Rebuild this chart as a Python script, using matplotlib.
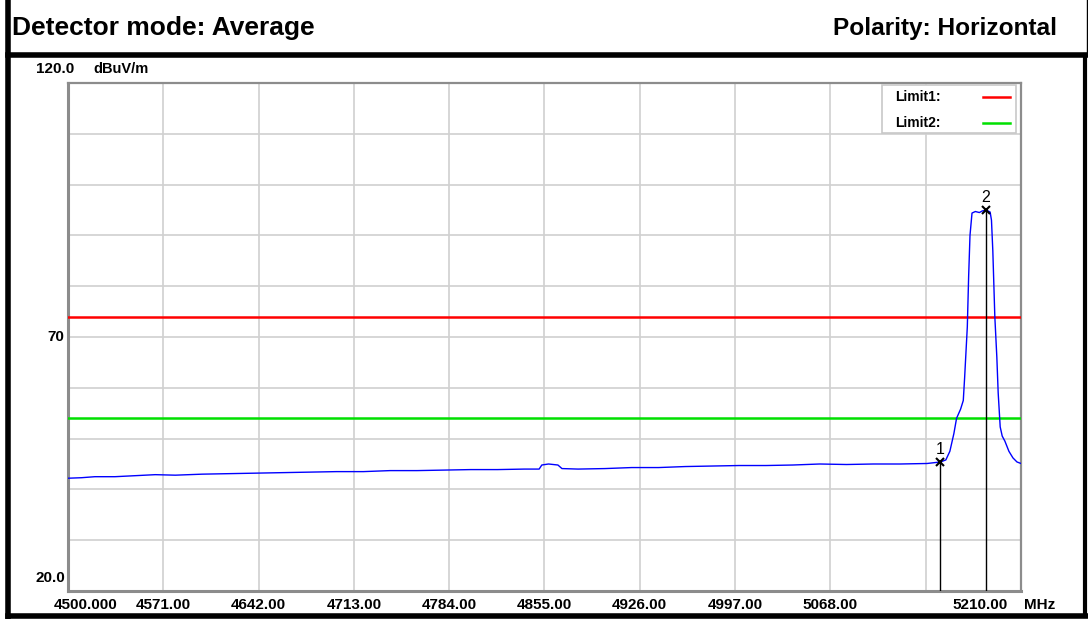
import numpy as np
import matplotlib.pyplot as plt
from matplotlib.lines import Line2D
from matplotlib.patches import Rectangle

plt.rcParams['font.family'] = ['Liberation Sans', 'DejaVu Sans']

# Datos
freq = [4500, 4510, 4520, 4535, 4550, 4565, 4580, 4600, 4620, 4640, 4660, 4680, 4700,
        4720, 4740, 4760, 4780, 4800, 4820, 4840, 4851, 4853, 4858, 4865, 4868, 4880,
        4900, 4920, 4940, 4960, 4980, 5000, 5020, 5040, 5060, 5080, 5100, 5120, 5140,
        5150, 5154, 5157, 5160, 5162, 5165, 5167, 5168, 5170, 5171, 5172, 5173.5, 5176,
        5179, 5181, 5184, 5187, 5188, 5189, 5190.5, 5192, 5193, 5194.5, 5196, 5198,
        5201, 5204, 5207, 5210]
nivel = [42.2, 42.3, 42.5, 42.5, 42.7, 42.9, 42.8, 43.0, 43.1, 43.2, 43.3, 43.4, 43.5,
         43.5, 43.7, 43.7, 43.8, 43.9, 43.9, 44.0, 44.0, 44.8, 45.0, 44.8, 44.1, 44.0,
         44.1, 44.3, 44.3, 44.5, 44.6, 44.7, 44.7, 44.8, 45.0, 44.9, 45.0, 45.0, 45.1,
         45.4, 45.8, 47.5, 51.0, 54.0, 55.8, 57.5, 62.0, 72.0, 82.0, 90.0, 94.4, 94.7,
         94.5, 94.8, 95.0, 94.6, 93.0, 87.0, 74.0, 66.0, 59.0, 52.3, 50.5, 49.5, 47.5,
         46.2, 45.4, 45.1]

limite1 = 74.0
limite2 = 54.0
marcadores_f = [5149.6, 5184.0]
marcadores_n = [45.4, 95.0]

ticks_x = [4500, 4571, 4642, 4713, 4784, 4855, 4926, 4997, 5068, 5139, 5210]
etiquetas_x = ['4500.000', '4571.00', '4642.00', '4713.00', '4784.00', '4855.00',
               '4926.00', '4997.00', '5068.00', '', '5210.00']
ticks_y = list(range(20, 121, 10))

W, H = 1088, 619
fig = plt.figure(figsize=(W / 100, H / 100), dpi=100)
fig.patch.set_facecolor('white')

# Marco exterior negro
fig.add_artist(Line2D([7.5 / W, 7.5 / W], [0, 1], color='black', lw=4, transform=fig.transFigure))
fig.add_artist(Line2D([7.5 / W, 1], [1 - 54.5 / H, 1 - 54.5 / H], color='black', lw=4,
                      transform=fig.transFigure))
fig.add_artist(Line2D([7.5 / W, 1], [1 - 616 / H, 1 - 616 / H], color='black', lw=4,
                      transform=fig.transFigure))
fig.add_artist(Line2D([1085 / W, 1085 / W], [1 - 616 / H, 1 - 54.5 / H], color='black', lw=3,
                      transform=fig.transFigure))
fig.add_artist(Line2D([1087 / W, 1087 / W], [1 - 54.5 / H, 1], color='black', lw=1,
                      transform=fig.transFigure))

fig.text(12 / W, 1 - 28 / H, 'Detector mode: Average', fontsize=19, fontweight='bold',
         va='center', ha='left')
fig.text(1057 / W, 1 - 28 / H, 'Polarity: Horizontal', fontsize=17.6, fontweight='bold',
         va='center', ha='right')

ax = fig.add_axes([68 / W, 1 - 591 / H, (1021 - 68) / W, (591 - 83) / H])
ax.set_xlim(4500, 5210)
ax.set_ylim(20, 120)
ax.set_xticks(ticks_x)
ax.set_yticks(ticks_y)
ax.tick_params(length=0, labelbottom=False, labelleft=False)
ax.grid(True, color='#d0d0d0', lw=1.2)
for s in ax.spines.values():
    s.set_color('#8c8c8c')
    s.set_linewidth(1.6)
ax.spines['left'].set_linewidth(2.2)
ax.spines['bottom'].set_linewidth(2.2)

ax.axhline(limite1, color='#ff0000', lw=1.8, zorder=3)
ax.axhline(limite2, color='#00e000', lw=1.8, zorder=3)
ax.plot(freq, nivel, color='#0000ff', lw=1.0, zorder=4)

for i, (f, n) in enumerate(zip(marcadores_f, marcadores_n)):
    ax.plot([f, f], [20, n], color='black', lw=1.0, zorder=5)
    ax.plot(f, n, marker='x', color='black', ms=6, mew=1.5, zorder=6)
    ax.text(f, n + 1.0, str(i + 1), ha='center', va='bottom', fontsize=11.5, zorder=6)

# Leyenda
leg = Rectangle((882 / W, 1 - 133 / H), (1016 - 882) / W, (133 - 85) / H, transform=fig.transFigure,
                facecolor='white', edgecolor='#c8c8c8', lw=1.2, zorder=7)
fig.add_artist(leg)
for txt, col, yp in [('Limit1:', '#ff0000', 97), ('Limit2:', '#00e000', 123)]:
    fig.text(895 / W, 1 - yp / H, txt, fontsize=10, fontweight='bold', va='center', ha='left', zorder=8)
    fig.add_artist(Line2D([983 / W, 1010 / W], [1 - yp / H, 1 - yp / H], color=col, lw=1.8,
                          transform=fig.transFigure, zorder=8))

# Etiquetas de ejes
tam = 11
trans_x = ax.get_xaxis_transform()
for t, lab in zip(ticks_x, etiquetas_x):
    if lab == '':
        continue
    if t == 4500:
        fig.text(54 / W, 1 - 605 / H, lab, fontsize=tam, fontweight='bold', ha='left', va='center')
        continue
    if t == 5210:
        fig.text(980 / W, 1 - 605 / H, lab, fontsize=tam, fontweight='bold', ha='center', va='center')
        continue
    ax.text(t, -0.028, lab, transform=trans_x, fontsize=tam, fontweight='bold', ha='center', va='center')
fig.text(1024 / W, 1 - 605 / H, 'MHz', fontsize=tam, fontweight='bold', ha='left', va='center')

fig.text(74 / W, 1 - 69 / H, '120.0', fontsize=tam, fontweight='bold', ha='right', va='center')
fig.text(93 / W, 1 - 69 / H, 'dBuV/m', fontsize=10.5, fontweight='bold', ha='left', va='center')
fig.text(64 / W, 1 - 337 / H, '70', fontsize=tam, fontweight='bold', ha='right', va='center')
fig.text(65 / W, 1 - 578 / H, '20.0', fontsize=tam, fontweight='bold', ha='right', va='center')

fig.savefig('out.png', dpi=100)
